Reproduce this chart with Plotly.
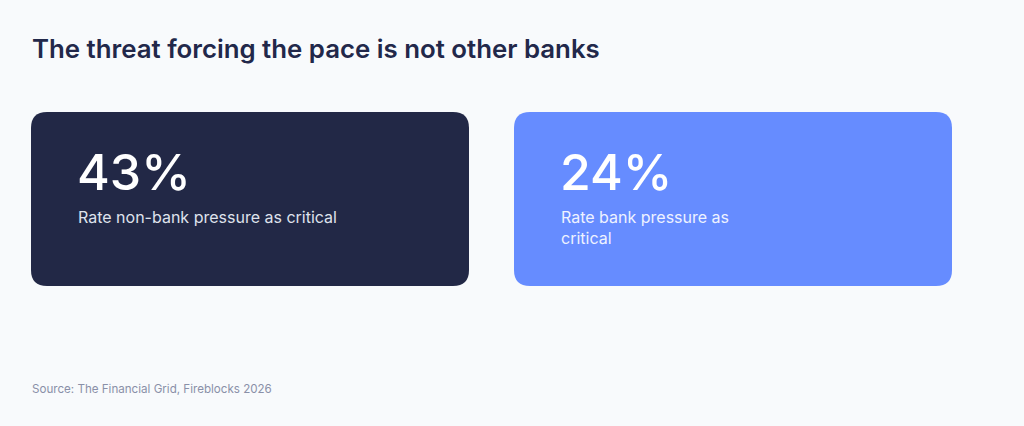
import plotly.graph_objects as go

# KPI data
values = [43, 24]
captions = ["Rate non-bank pressure as critical", "Rate bank pressure as<br>critical"]
card_colors = ["#222846", "#668cff"]
caption_colors = ["#dfe2ec", "#eef2ff"]

title = "The threat forcing the pace is not other banks"
source = "Source: The Financial Grid, Fireblocks 2026"

W, H = 1024, 426
font = "Inter, Roboto, 'Noto Sans', sans-serif"
bg = "#f8fafc"


def rounded_rect(x0, y0, x1, y1, r):
    return (f"M {x0 + r},{y0} L {x1 - r},{y0} Q {x1},{y0} {x1},{y0 + r} "
            f"L {x1},{y1 - r} Q {x1},{y1} {x1 - r},{y1} "
            f"L {x0 + r},{y1} Q {x0},{y1} {x0},{y1 - r} "
            f"L {x0},{y0 + r} Q {x0},{y0} {x0 + r},{y0} Z")


fig = go.Figure()

# card geometry (pixels on a hidden axis)
card_left = [31, 514]
card_w = 438
card_top, card_bottom = 112, 286

shapes = []
annotations = []
for i, v in enumerate(values):
    x0 = card_left[i]
    shapes.append(dict(type="path", xref="x", yref="y",
                       path=rounded_rect(x0, card_top, x0 + card_w, card_bottom, 16),
                       fillcolor=card_colors[i], line=dict(width=0), layer="below"))
    annotations.append(dict(x=x0 + 44, y=172, xref="x", yref="y", text=f"{v}%",
                            showarrow=False, xanchor="left", yanchor="middle",
                            font=dict(family=font, size=50, color="white", weight=500)))
    annotations.append(dict(x=x0 + 45, y=205, xref="x", yref="y", text=captions[i],
                            showarrow=False, xanchor="left", yanchor="top", align="left",
                            font=dict(family=font, size=16, color=caption_colors[i])))

annotations.append(dict(x=30, y=48, xref="x", yref="y", text=title, showarrow=False,
                        xanchor="left", yanchor="middle",
                        font=dict(family=font, size=25.8, color="#22284a", weight=600)))
annotations.append(dict(x=30, y=389, xref="x", yref="y", text=source, showarrow=False,
                        xanchor="left", yanchor="middle",
                        font=dict(family=font, size=11.6, color="#8a90a8")))

fig.update_layout(
    width=W, height=H,
    margin=dict(l=0, r=0, t=0, b=0),
    paper_bgcolor=bg, plot_bgcolor=bg,
    xaxis=dict(range=[0, W], visible=False, fixedrange=True),
    yaxis=dict(range=[H, 0], visible=False, fixedrange=True),
    shapes=shapes, annotations=annotations,
    showlegend=False,
)

fig.write_html("out.html", config={"displayModeBar": False},
               post_script=f"document.body.style.margin='0';document.body.style.background='{bg}';")
